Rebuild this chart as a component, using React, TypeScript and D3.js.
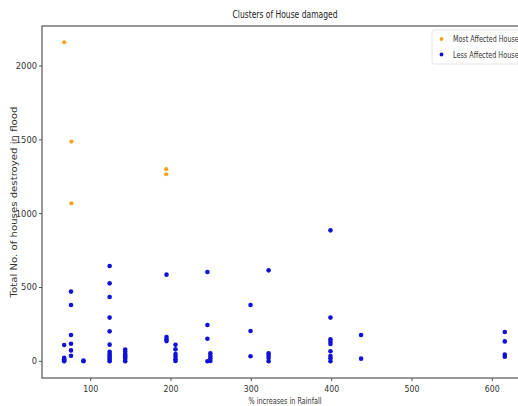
import React from "react";
import * as d3 from "d3";

const title = "Clusters of House damaged";
const xLabel = "% increases in Rainfall";
const yLabel = "Total No. of houses destroyed in flood";
const seriesNames = ["Most Affected Houses", "Less Affected Houses"];
const seriesColors = ["#f5a31a", "#1010d8"];

const mostRainfall = [67, 76, 76, 194, 194];
const mostHouses = [2161, 1488, 1070, 1301, 1267];

const lessRainfall = [
  67, 67, 67, 67, 67,
  75.5, 75.5, 75.5, 75.5, 75.5, 75.5,
  91, 91,
  123.6, 123.6, 123.6, 123.6, 123.6, 123.6, 123.6, 123.6, 123.6, 123.6, 123.6, 123.6,
  143, 143, 143, 143, 143, 143, 143,
  194.4, 194.4, 194.4, 194.4,
  205.6, 205.6, 205.6, 205.6, 205.6, 205.6,
  245.3, 245.3, 245.3, 245.3,
  249, 249, 249, 249,
  299, 299, 299,
  321.5, 321.5, 321.5, 321.5, 321.5,
  398.5, 398.5, 398.5, 398.5, 398.5, 398.5, 398.5, 398.5, 398.5,
  436.6, 436.6,
  615.5, 615.5, 615.5, 615.5,
];
const lessHouses = [
  110, 24, 14, 5, 0,
  472, 381, 178, 119, 74, 38,
  5, 0,
  646, 528, 436, 296, 203, 113, 64, 50, 38, 25, 12, 0,
  80, 65, 50, 40, 28, 15, 0,
  587, 165, 149, 137,
  112, 81, 49, 31, 14, 2,
  605, 246, 153, 0,
  54, 36, 20, 2,
  381, 205, 34,
  616, 54, 38, 22, 0,
  887, 296, 149, 133, 117, 68, 36, 20, 0,
  178, 18,
  199, 135, 45, 31,
];

const xTicks = [100, 200, 300, 400, 500, 600];
const yTicks = [0, 500, 1000, 1500, 2000];

export default function App() {
  const W = 518;
  const H = 406;
  const left = 42;
  const right = 528;
  const top = 26;
  const bottom = 378;

  const x = d3.scaleLinear().domain([39.4, 644.4]).range([left, right]);
  const y = d3.scaleLinear().domain([-113, 2271]).range([bottom, top]);

  const textColor = "#333";
  const spine = "#555";
  const font = "DejaVu Sans, sans-serif";

  return (
    <svg
      width={W}
      height={H}
      style={{ position: "absolute", left: 0, top: 0, background: "#fff" }}
      fontFamily={font}
    >
      <rect x={0} y={0} width={W} height={H} fill="#fff" />
      {/* spines */}
      <rect
        x={left}
        y={top}
        width={right - left}
        height={bottom - top}
        fill="none"
        stroke={spine}
        strokeWidth={1.2}
      />
      {/* title */}
      <text
        x={(left + right) / 2}
        y={18}
        textAnchor="middle"
        fontSize={10}
        fill="#222"
        textLength={105}
        lengthAdjust="spacingAndGlyphs"
      >
        {title}
      </text>
      {/* x ticks */}
      {xTicks.map((t) => (
        <g key={"x" + t}>
          <line x1={x(t)} x2={x(t)} y1={bottom} y2={bottom + 3} stroke={spine} />
          <text
            x={x(t)}
            y={bottom + 14}
            textAnchor="middle"
            fontSize={9}
            fill={textColor}
            textLength={15}
            lengthAdjust="spacingAndGlyphs"
          >
            {t}
          </text>
        </g>
      ))}
      {/* y ticks */}
      {yTicks.map((t) => (
        <g key={"y" + t}>
          <line x1={left - 3} x2={left} y1={y(t)} y2={y(t)} stroke={spine} />
          <text
            x={left - 5}
            y={y(t) + 3}
            textAnchor="end"
            fontSize={9}
            fill={textColor}
            textLength={String(t).length * 5.3}
            lengthAdjust="spacingAndGlyphs"
          >
            {t}
          </text>
        </g>
      ))}
      {/* axis labels */}
      <text
        x={285}
        y={404}
        textAnchor="middle"
        fontSize={9}
        fill={textColor}
        textLength={73}
        lengthAdjust="spacingAndGlyphs"
      >
        {xLabel}
      </text>
      <text
        transform={`translate(17, ${(top + bottom) / 2}) rotate(-90)`}
        textAnchor="middle"
        fontSize={9}
        fill={textColor}
        textLength={191}
        lengthAdjust="spacingAndGlyphs"
      >
        {yLabel}
      </text>
      {/* points */}
      {lessRainfall.map((v, i) => (
        <circle key={"l" + i} cx={x(v)} cy={y(lessHouses[i])} r={2.3} fill={seriesColors[1]} />
      ))}
      {mostRainfall.map((v, i) => (
        <circle key={"m" + i} cx={x(v)} cy={y(mostHouses[i])} r={2.1} fill={seriesColors[0]} />
      ))}
      {/* legend */}
      <rect
        x={432}
        y={30}
        width={110}
        height={34}
        rx={2}
        fill="#fff"
        stroke="#ddd"
        strokeWidth={0.8}
      />
      {seriesNames.map((n, i) => (
        <g key={"lg" + i}>
          <circle cx={441.5} cy={39 + i * 15.5} r={1.9} fill={seriesColors[i]} />
          <text
            x={453}
            y={42 + i * 15.5}
            fontSize={9}
            fill={textColor}
            textLength={69}
            lengthAdjust="spacingAndGlyphs"
          >
            {n}
          </text>
        </g>
      ))}
    </svg>
  );
}
